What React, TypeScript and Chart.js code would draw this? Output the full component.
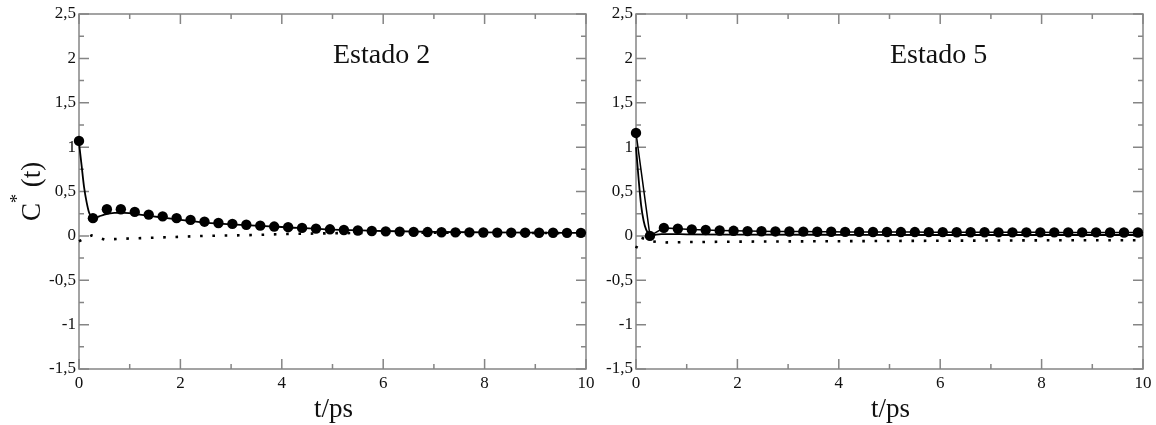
import React, { useEffect, useRef } from "react";
import { Chart, registerables } from "chart.js";

Chart.register(...registerables);

const FONT = '"Liberation Serif", "Times New Roman", serif';

// sampled times of the symbol series (t/ps)
const circleT = [
  0, 0.275, 0.55, 0.825, 1.1, 1.375, 1.65, 1.925, 2.2, 2.475, 2.75, 3.025, 3.3,
  3.575, 3.85, 4.125, 4.4, 4.675, 4.95, 5.225, 5.5, 5.775, 6.05, 6.325, 6.6,
  6.875, 7.15, 7.425, 7.7, 7.975, 8.25, 8.525, 8.8, 9.075, 9.35, 9.625, 9.9,
];

// Estado 2
const estado2Circles = [
  1.07, 0.2, 0.3, 0.3, 0.27, 0.24, 0.22, 0.2, 0.18, 0.16, 0.145, 0.135, 0.125,
  0.115, 0.105, 0.098, 0.09, 0.082, 0.074, 0.066, 0.06, 0.055, 0.051, 0.048,
  0.045, 0.043, 0.041, 0.04, 0.039, 0.038, 0.037, 0.036, 0.036, 0.035, 0.035,
  0.034, 0.034,
];
const estado2LineT = [0, 0.05, 0.1, 0.15, 0.2, 0.25, 0.3, 0.4, 0.5, 0.7, 0.9, 1.2, 1.6, 2, 2.5, 3, 4, 5, 6, 7, 8, 9, 10];
const estado2Line = [1.05, 0.8, 0.55, 0.38, 0.26, 0.21, 0.2, 0.22, 0.24, 0.26, 0.26, 0.24, 0.21, 0.18, 0.15, 0.13, 0.1, 0.07, 0.055, 0.045, 0.04, 0.036, 0.033];
const estado2DotT = [0, 0.25, 0.5, 0.75, 1, 1.5, 2, 2.5, 3, 3.5, 4, 4.5, 5, 6, 7, 8, 10];
const estado2Dot = [-0.06, 0.005, -0.04, -0.035, -0.03, -0.02, -0.01, 0, 0.005, 0.01, 0.02, 0.025, 0.03, 0.035, 0.035, 0.035, 0.03];

// Estado 5
const estado5Circles = [
  1.16, 0.0, 0.09, 0.08, 0.072, 0.066, 0.061, 0.057, 0.054, 0.052, 0.05, 0.049,
  0.048, 0.047, 0.046, 0.045, 0.045, 0.044, 0.044, 0.043, 0.043, 0.042, 0.042,
  0.041, 0.041, 0.041, 0.04, 0.04, 0.04, 0.04, 0.039, 0.039, 0.039, 0.039,
  0.038, 0.038, 0.038,
];
const estado5LineT = [0, 0.05, 0.1, 0.15, 0.2, 0.25, 0.3, 0.4, 0.5, 0.7, 1, 2, 4, 6, 8, 10];
const estado5Line = [1.0, 0.65, 0.35, 0.17, 0.07, 0.025, 0.005, 0.015, 0.02, 0.02, 0.018, 0.015, 0.012, 0.01, 0.01, 0.01];
const estado5DotT = [0, 0.1, 0.3, 0.5, 1, 2, 4, 6, 8, 10];
const estado5Dot = [-0.14, -0.02, -0.06, -0.075, -0.07, -0.065, -0.06, -0.055, -0.05, -0.05];

// axes
const xMin = 0;
const xMax = 10;
const yMin = -1.5;
const yMax = 2.5;
const xTitle = "t/ps";
const yTitleMain = "C";
const yTitleSup = "*";
const yTitleRest = " (t)";

const pts = (xs: number[], ys: number[]) => xs.map((x, i) => ({ x, y: ys[i] }));
const isMajorY = (v: number) => Math.abs(v * 2 - Math.round(v * 2)) < 1e-6;
const fmt = (v: number) => String(Math.round(v * 100) / 100).replace(".", ",");

const framePlugin = {
  id: "frame",
  beforeDatasetsDraw(chart: any) {
    const { ctx, chartArea } = chart;
    const { left, right, top, bottom } = chartArea;
    const x = chart.scales.x;
    const y = chart.scales.y;
    ctx.save();
    ctx.strokeStyle = "#858585";
    ctx.lineWidth = 1.5;
    ctx.strokeRect(left, top, right - left, bottom - top);
    ctx.beginPath();
    x.ticks.forEach((t: any) => {
      const px = x.getPixelForValue(t.value);
      const len = Math.round(t.value) % 2 === 0 ? 10 : 5;
      ctx.moveTo(px, bottom);
      ctx.lineTo(px, bottom - len);
      ctx.moveTo(px, top);
      ctx.lineTo(px, top + len);
    });
    y.ticks.forEach((t: any) => {
      const py = y.getPixelForValue(t.value);
      const len = isMajorY(t.value) ? 10 : 5;
      ctx.moveTo(left, py);
      ctx.lineTo(left + len, py);
      ctx.moveTo(right, py);
      ctx.lineTo(right - len, py);
    });
    ctx.stroke();
    ctx.restore();
  },
};

function makeTextPlugin(title: string, showYTitle: boolean) {
  return {
    id: "texts",
    afterDraw(chart: any) {
      const { ctx, chartArea } = chart;
      const { left, right } = chartArea;
      ctx.save();
      ctx.fillStyle = "#111";
      ctx.textBaseline = "alphabetic";
      // panel label
      ctx.font = `28px ${FONT}`;
      ctx.textAlign = "left";
      ctx.fillText(title, left + 254, 63);
      // x title
      ctx.font = `27px ${FONT}`;
      ctx.textAlign = "center";
      ctx.fillText(xTitle, (left + right) / 2 + 1, 417);
      if (showYTitle) {
        ctx.save();
        ctx.translate(40, 221);
        ctx.rotate(-Math.PI / 2);
        ctx.textAlign = "left";
        ctx.font = `27px ${FONT}`;
        ctx.fillText(yTitleMain, 0, 0);
        const wC = ctx.measureText(yTitleMain).width;
        ctx.font = `18px ${FONT}`;
        ctx.fillText(yTitleSup, wC, -17);
        const wS = ctx.measureText(yTitleSup).width;
        ctx.font = `27px ${FONT}`;
        ctx.fillText(yTitleRest, wC + wS, 0);
        ctx.restore();
      }
      ctx.restore();
    },
  };
}

function buildConfig(
  circles: number[],
  lineT: number[],
  line: number[],
  dotT: number[],
  dot: number[],
  yAxisWidth: number,
  padRight: number,
  title: string,
  showYTitle: boolean,
  connectCircles: boolean
): any {
  return {
    type: "line",
    data: {
      datasets: [
        {
          data: pts(circleT, circles),
          showLine: connectCircles,
          borderColor: "#000",
          borderWidth: 1.5,
          pointRadius: 5.2,
          pointBackgroundColor: "#000",
          pointBorderWidth: 0,
          clip: false,
        },
        {
          data: pts(lineT, line),
          borderColor: "#000",
          borderWidth: 1.8,
          pointRadius: 0,
          cubicInterpolationMode: "monotone",
          clip: false,
        },
        {
          data: pts(dotT, dot),
          borderColor: "#000",
          borderWidth: 2.6,
          borderDash: [2.6, 9.7],
          borderCapStyle: "butt",
          pointRadius: 0,
          tension: 0,
          clip: false,
        },
      ],
    },
    options: {
      animation: false,
      responsive: false,
      layout: { padding: { left: 0, right: padRight, top: 14, bottom: 0 } },
      plugins: { legend: { display: false }, tooltip: { enabled: false } },
      scales: {
        x: {
          type: "linear",
          min: xMin,
          max: xMax,
          grid: { display: false, drawTicks: false },
          border: { display: false },
          ticks: {
            stepSize: 1,
            autoSkip: false,
            maxRotation: 0,
            padding: 4,
            color: "#111",
            font: { family: FONT, size: 17 },
            callback: (v: number) => (Math.round(v) % 2 === 0 ? String(v) : ""),
          },
          afterFit: (s: any) => {
            s.height = 56;
          },
        },
        y: {
          type: "linear",
          min: yMin,
          max: yMax,
          grid: { display: false, drawTicks: false },
          border: { display: false },
          ticks: {
            stepSize: 0.25,
            autoSkip: false,
            padding: 3,
            color: "#111",
            font: { family: FONT, size: 17 },
            callback: (v: number) => (isMajorY(v) ? fmt(v) : ""),
          },
          afterFit: (s: any) => {
            s.width = yAxisWidth;
          },
        },
      },
    },
    plugins: [framePlugin, makeTextPlugin(title, showYTitle)],
  };
}

export default function App() {
  const leftRef = useRef<HTMLCanvasElement>(null);
  const rightRef = useRef<HTMLCanvasElement>(null);

  useEffect(() => {
    const c1 = new Chart(
      leftRef.current as HTMLCanvasElement,
      buildConfig(estado2Circles, estado2LineT, estado2Line, estado2DotT, estado2Dot, 79, 14, "Estado 2", true, false)
    );
    const c2 = new Chart(
      rightRef.current as HTMLCanvasElement,
      buildConfig(estado5Circles, estado5LineT, estado5Line, estado5DotT, estado5Dot, 46, 13, "Estado 5", false, true)
    );
    return () => {
      c1.destroy();
      c2.destroy();
    };
  }, []);

  return (
    <div style={{ position: "absolute", left: 0, top: 0, width: 1156, height: 425, background: "#fff", overflow: "hidden" }}>
      <canvas ref={leftRef} width={600} height={425} style={{ position: "absolute", left: 0, top: 0 }} />
      <canvas ref={rightRef} width={566} height={425} style={{ position: "absolute", left: 590, top: 0 }} />
    </div>
  );
}
